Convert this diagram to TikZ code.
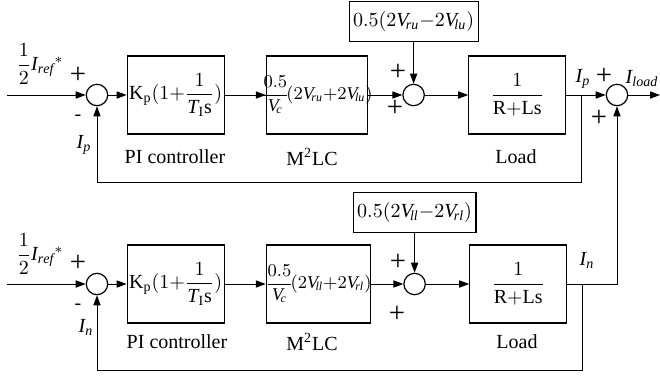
\documentclass[tikz,border=0pt]{standalone}
\usepackage{amsmath}
\usepackage{fontspec}
\setmainfont{Liberation Serif}
\usetikzlibrary{arrows.meta,positioning}

\newcommand{\Vs}[1]{\mathit{V}_{\!\mathit{#1}}}
\newcommand{\Is}[1]{\mathit{I}_{\mathit{#1}}}

\begin{document}
\begin{tikzpicture}[
  x=0.5pt, y=-0.5pt,
  font=\normalsize,
  block/.style={draw, line width=0.6pt, minimum width=48.5pt, minimum height=39pt,
    inner sep=0pt, align=center},
  feed/.style={draw, line width=0.6pt, minimum height=20pt, inner xsep=2pt, inner ysep=0pt},
  sum/.style={draw, circle, line width=0.6pt, minimum size=10.7pt, inner sep=0pt},
  sign/.style={inner sep=0pt, font=\Large},
  caption/.style={inner sep=0pt},
  flow/.style={-{Triangle[length=5pt,width=3.6pt]}, line width=0.5pt}
]
\useasboundingbox (0,0) rectangle (660,377);

% upper loop
\node[sum] (s1) at (97,95) {};
\node[block, right=9.15pt of s1] (pi1) {$\mathrm{K_p}(1{+}\dfrac{1}{\mathit{T}_{\mathrm{I}}\mathrm{s}})$};
\node[block, minimum width=50.5pt, right=20.5pt of pi1, font=\small] (m1)
  {\makebox[49pt]{$\dfrac{0.5}{\Vs{c}}\!(2\Vs{ru}{+}2\Vs{lu})$}};
\node[sum, right=17.15pt of m1] (s2) {};
\node[feed, minimum width=64.5pt, above=20.65pt of s2] (f1) {$0.5(2\Vs{ru}{-}2\Vs{lu})$};
\node[block, right=21.65pt of s2] (load1) {$\dfrac{1}{\mathrm{R{+}Ls}}$};
\node[sum, right=19.65pt of load1] (s3) {};
\coordinate (in1) at (7,95);
\coordinate (out1) at (660,95);
\coordinate (b1) at (581,95);
\coordinate (fb1) at (581,182);

\draw[flow] (in1) -- (s1);
\draw[flow] (s1) -- (pi1);
\draw[flow] (pi1) -- (m1);
\draw[flow] (m1) -- (s2);
\draw[flow] (f1) -- (s2);
\draw[flow] (s2) -- (load1);
\draw[flow] (load1) -- (s3);
\draw[flow] (s3) -- (out1);
\draw[flow] (b1) -- (fb1) -| (s1.south);

\node (ref1) at (40,64) {$\dfrac{1}{2}\Is{ref}{}^{*}$};
\node[sign] (pa1) at (78,75) {+};
\node[caption] (ma1) at (78,118) {-};
\node[caption] (lip1) at (84,145) {$\Is{p}$};
\node[caption] (cap1) at (175,157) {PI controller};
\node[caption] (cap2) at (312,157) {M\textsuperscript{2}LC};
\node[caption] (cap3) at (516,157) {Load};
\node[sign] (pb1) at (398,72) {+};
\node[sign] (pc1) at (395,108) {+};
\node[caption] (lip2) at (583,79) {$\Is{p}$};
\node[sign] (pd1) at (604,76) {+};
\node[caption] (lload) at (642,79) {$\Is{load}$};
\node[sign] (pe1) at (599,118) {+};

% lower loop
\node[sum] (s4) at (97,284) {};
\node[block, right=9.15pt of s4] (pi2) {$\mathrm{K_p}(1{+}\dfrac{1}{\mathit{T}_{\mathrm{I}}\mathrm{s}})$};
\node[block, minimum width=52pt, right=20.5pt of pi2, font=\small] (m2)
  {\makebox[50pt]{$\dfrac{0.5}{\Vs{c}}\!(2\Vs{ll}{+}2\Vs{rl})$}};
\node[sum, right=16.15pt of m2] (s5) {};
\node[feed, minimum width=58.5pt, above=20pt of s5] (f2) {$0.5(2\Vs{ll}{-}2\Vs{rl})$};
\node[block, right=21.65pt of s5] (load2) {$\dfrac{1}{\mathrm{R{+}Ls}}$};
\coordinate (in2) at (7,284);
\coordinate (b2) at (582,284);
\coordinate (fb2) at (582,370);

\draw[flow] (in2) -- (s4);
\draw[flow] (s4) -- (pi2);
\draw[flow] (pi2) -- (m2);
\draw[flow] (m2) -- (s5);
\draw[flow] (f2) -- (s5);
\draw[flow] (s5) -- (load2);
\draw[flow] (load2) -| (s3.south);
\draw[flow] (b2) -- (fb2) -| (s4.south);

\node (ref2) at (40,254) {$\dfrac{1}{2}\Is{ref}{}^{*}$};
\node[sign] (pa2) at (78,263) {+};
\node[caption] (ma2) at (78,307) {-};
\node[caption] (lin1) at (86,327) {$\Is{n}$};
\node[caption] (cap4) at (177,342) {PI controller};
\node[caption] (cap5) at (312,342) {M\textsuperscript{2}LC};
\node[caption] (cap6) at (517,342) {Load};
\node[sign] (pb2) at (398,262) {+};
\node[sign] (pc2) at (397,314) {+};
\node[caption] (lin2) at (587,260) {$\Is{n}$};
\end{tikzpicture}
\end{document}
